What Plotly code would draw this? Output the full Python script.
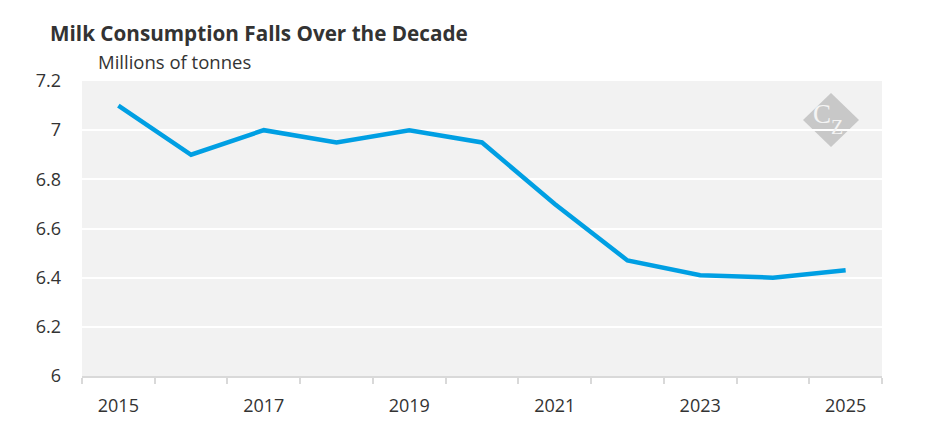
import plotly.graph_objects as go

years = [str(y) for y in range(2015, 2026)]
consumption = [7.10, 6.90, 7.00, 6.95, 7.00, 6.95, 6.70, 6.47, 6.41, 6.40, 6.43]
y_ticks = [6, 6.2, 6.4, 6.6, 6.8, 7, 7.2]
y_tick_text = ['6', '6.2', '6.4', '6.6', '6.8', '7', '7.2']

# page body adds an 8px margin, so the figure is drawn 8px smaller
OFF = 8
W, H = 945 - OFF, 443 - OFF
L, R, T, B = 82 - OFF, 63, 81 - OFF, 67
FONT = 'Open Sans'
TXT = '#333333'

def px_x(x):
    return (x - OFF - L) / (W - L - R)

def px_y(y):
    return (H - B - (y - OFF)) / (H - T - B)

fig = go.Figure()
fig.add_trace(go.Scatter(x=years, y=consumption, mode='lines',
                         line=dict(color='#009fe3', width=4.5),
                         hoverinfo='x+y', showlegend=False))

# watermark diamond with CZ logo
cx, cy, hw, hh = 831, 120, 28, 27
fig.add_shape(type='path', xref='paper', yref='paper', layer='below',
              path=f'M {px_x(cx-hw)} {px_y(cy)} L {px_x(cx)} {px_y(cy-hh)} '
                   f'L {px_x(cx+hw)} {px_y(cy)} L {px_x(cx)} {px_y(cy+hh)} Z',
              fillcolor='#c8c8c8', line=dict(width=0))
fig.add_annotation(x=px_x(822), y=px_y(114), xref='paper', yref='paper',
                   xanchor='center', yanchor='middle',
                   text='C', showarrow=False,
                   font=dict(family='Liberation Serif', size=27, color='#f4f4f4'))
fig.add_annotation(x=px_x(837), y=px_y(127), xref='paper', yref='paper',
                   xanchor='center', yanchor='middle',
                   text='Z', showarrow=False,
                   font=dict(family='Liberation Serif', size=20, color='#f4f4f4'))

fig.update_layout(
    width=W, height=H,
    margin=dict(l=L, r=R, t=T, b=B),
    paper_bgcolor='white', plot_bgcolor='#f2f2f2',
    font=dict(family=FONT, size=18, color=TXT),
    title=dict(text='<b>Milk Consumption Falls Over the Decade</b>',
               x=(50 - OFF) / W, xanchor='left', y=1 - (34 - OFF) / H,
               yanchor='middle',
               font=dict(family=FONT, size=20.7, color=TXT)),
    annotations=list(fig.layout.annotations) + [
        dict(text='Millions of tonnes', xref='paper', yref='paper',
             x=px_x(96), xanchor='left', y=px_y(62), yanchor='middle',
             showarrow=False, font=dict(family=FONT, size=18.5, color=TXT))],
    xaxis=dict(type='category', tickson='boundaries', ticks='outside',
               ticklen=6, tickwidth=2, tickcolor='#d9d9d9',
               showline=True, linecolor='#d9d9d9', linewidth=2,
               showgrid=False, ticklabelstep=2, ticklabelstandoff=12,
               range=[-0.5, 10.5], fixedrange=True),
    yaxis=dict(range=[6, 7.2], tickvals=y_ticks, ticktext=y_tick_text,
               gridcolor='white', gridwidth=2, zeroline=False,
               showline=False, ticks='', ticklabelstandoff=20,
               fixedrange=True),
)

fig.write_html('out.html')
